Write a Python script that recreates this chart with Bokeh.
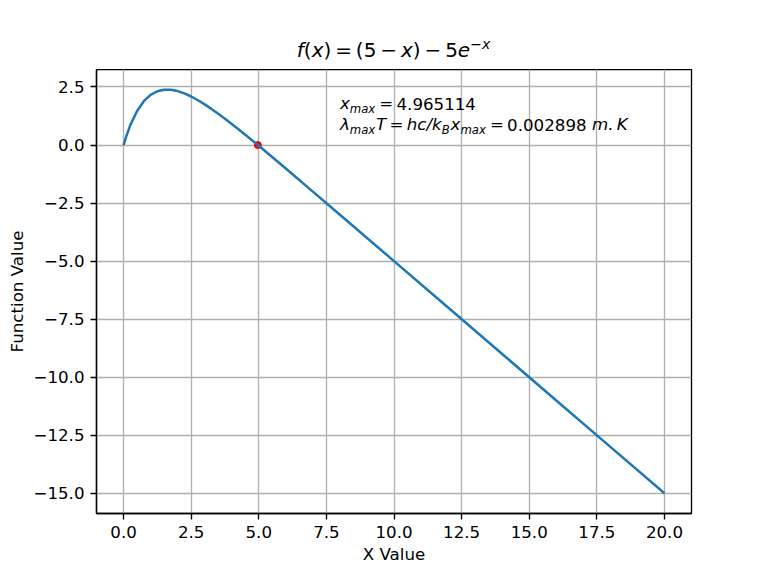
from bokeh.plotting import figure
from bokeh.layouts import column
from bokeh.models import Range1d, FixedTicker, CustomJSTickFormatter, Label
from bokeh.embed import file_html
from bokeh.resources import INLINE

# ---- data ----
x_vals = [0.0, 0.1, 0.25, 0.5, 0.75, 1.0, 1.25, 1.5, 1.75, 2.0, 2.25, 2.5, 2.75,
          3.0, 3.25, 3.5, 3.75, 4.0, 4.25, 4.5, 4.75, 5.0, 6.0, 7.0, 8.0, 10.0,
          12.0, 14.0, 16.0, 18.0, 20.0]
f_vals = [0.0, 0.376, 0.856, 1.467, 1.888, 2.161, 2.317, 2.384, 2.381, 2.323, 2.223,
          2.090, 1.930, 1.751, 1.556, 1.349, 1.132, 0.908, 0.679, 0.444, 0.207,
          -0.034, -1.012, -2.005, -3.002, -5.0, -7.0, -9.0, -11.0, -13.0, -15.0]
root_x = [4.965114]
root_y = [0.0]
x_ticks = [0, 2.5, 5, 7.5, 10, 12.5, 15, 17.5, 20]
y_ticks = [-15, -12.5, -10, -7.5, -5, -2.5, 0, 2.5]
x_label = "X Value"
y_label = "Function Value"

FONT = "DejaVu Sans"
BLUE = "#1f77b4"
LW = 1.33
W, H = 768, 576
L, R, T, B = 96, 77, 69, 63
frame_w = W - L - R
frame_h = H - T - B

xpad = 0.05 * (max(x_vals) - min(x_vals))
ypad = 0.05 * (max(f_vals) - min(f_vals))
x0, x1 = min(x_vals) - xpad, max(x_vals) + xpad
y0, y1 = min(f_vals) - ypad, max(f_vals) + ypad

# ---- title strip: its frame spans page x L..W-R and page y 0..T ----
top = figure(frame_width=frame_w, frame_height=T, output_backend="svg",
             toolbar_location=None, title=None,
             x_axis_location=None, y_axis_location=None,
             x_range=Range1d(L, W - R), y_range=Range1d(0, T),
             min_border_left=L, min_border_right=R, min_border_top=0, min_border_bottom=0,
             background_fill_color="white", border_fill_color="white")
top.grid.visible = False
top.outline_line_color = None

# ---- main plot ----
p = figure(frame_width=frame_w, frame_height=frame_h, output_backend="svg",
           toolbar_location=None, title=None,
           x_range=Range1d(x0, x1), y_range=Range1d(y0, y1),
           min_border_left=L, min_border_right=R, min_border_top=0, min_border_bottom=B,
           background_fill_color="white", border_fill_color="white")

p.outline_line_color = "black"
p.outline_line_width = LW
p.outline_line_alpha = 1.0

fmt = CustomJSTickFormatter(code="return tick.toFixed(1).replace('-', '\\u2212');")
for ax, ticks in ((p.xaxis[0], x_ticks), (p.yaxis[0], y_ticks)):
    ax.ticker = FixedTicker(ticks=ticks)
    ax.formatter = fmt
    ax.axis_line_color = "black"
    ax.axis_line_width = LW
    ax.major_tick_line_color = "black"
    ax.major_tick_line_width = LW
    ax.major_tick_out = 6
    ax.major_tick_in = 0
    ax.minor_tick_line_color = None
    ax.major_label_text_font = FONT
    ax.major_label_text_font_size = "16.67px"
    ax.major_label_text_color = "black"
    ax.major_label_standoff = 6
    ax.axis_label_text_font = FONT
    ax.axis_label_text_font_size = "16.67px"
    ax.axis_label_text_font_style = "normal"
    ax.axis_label_text_color = "black"

p.xaxis.axis_label = x_label
p.yaxis.axis_label = y_label
p.xaxis.axis_label_standoff = 4
p.yaxis.axis_label_standoff = 3

for g in (p.xgrid[0], p.ygrid[0]):
    g.grid_line_color = "#b0b0b0"
    g.grid_line_width = LW

p.scatter(root_x, root_y, size=7, color="red")
p.line(x_vals, f_vals, line_color=BLUE, line_width=2.5)

# ---- mathtext-like texts, laid out with DejaVu Sans advance widths ----
ADV = {' ': 651, '(': 799, ')': 799, '.': 651, '/': 690, '=': 1716, '\u2212': 1716,
       'B': 1405, 'K': 1339, 'T': 1251, 'a': 1255, 'c': 1126, 'e': 1260, 'f': 721,
       'h': 1298, 'k': 1186, 'm': 1995, 'x': 1212, '\u03bb': 1212}
for d in "0123456789":
    ADV[d] = 1303
BASE_FIX = 0.4   # Bokeh draws "alphabetic" texts ~0.4 em lower than the baseline


def width(txt, size):
    return sum(ADV[c] for c in txt) / 2048 * size


def layout(fig, runs, start_x, baseline, size):
    """start_x / baseline are page pixels."""
    em = 1995 / 2048 * size
    x = start_x
    for run in runs:
        if run[0] == "SP":
            x += run[1] * em
            continue
        txt, italic, kind = run
        if kind == "sub":
            s, dy = size * 0.7, -0.3 * 0.547 * size
        elif kind == "sup":
            s, dy = size * 0.7, 0.7 * 0.547 * size
        else:
            s, dy = size, 0.0
        dy += BASE_FIX * s
        if fig is top:
            lab = Label(x=x, y=T - baseline + dy)
        else:
            lab = Label(x=x0, y=y1, x_offset=x - L, y_offset=T - baseline + dy)
        lab.update(text=txt, text_font=FONT, text_font_size=f"{s:.2f}px",
                   text_font_style="italic" if italic else "normal",
                   text_color="black", text_align="left", text_baseline="alphabetic")
        fig.add_layout(lab)
        x += width(txt, s)
        if kind in ("sub", "sup"):
            x += 0.05 * size
    return x


MINUS = "\u2212"
title_runs = [("f", True, "n"), ("(", False, "n"), ("x", True, "n"), (")", False, "n"),
              ("SP", 0.2), ("=", False, "n"), ("SP", 0.2), ("(5", False, "n"),
              ("SP", 0.2), (MINUS, False, "n"), ("SP", 0.2), ("x", True, "n"),
              (")", False, "n"), ("SP", 0.2), (MINUS, False, "n"), ("SP", 0.2),
              ("5", False, "n"), ("e", True, "n"), (MINUS + "x", True, "sup")]
tw = 0.0
for r in title_runs:
    if r[0] == "SP":
        tw += r[1] * 1995 / 2048 * 20
    else:
        s = 14 if r[2] == "sup" else 20
        tw += width(r[0], s) + (1.0 if r[2] == "sup" else 0)
layout(top, title_runs, L + frame_w / 2 - tw / 2, T - 12, 20)

ann_x = L + (8 - x0) / (x1 - x0) * frame_w
line1 = [("x", True, "n"), ("max", True, "sub"), ("SP", 0.2), ("=", False, "n"),
         ("SP", 0.2), ("4.965114", False, "n")]
line2 = [("\u03bb", True, "n"), ("max", True, "sub"), ("T", True, "n"), ("SP", 0.2),
         ("=", False, "n"), ("SP", 0.2), ("hc/k", True, "n"), ("B", True, "sub"),
         ("x", True, "n"), ("max", True, "sub"), ("SP", 0.2), ("=", False, "n"),
         ("SP", 0.2), ("0.002898", False, "n"), ("SP", 0.333), ("m.", True, "n"),
         ("SP", 0.2), ("K", True, "n")]
layout(p, line1, ann_x, 110, 16.67)
layout(p, line2, ann_x, 131, 16.67)

page = column(top, p, spacing=0)
open("out.html", "w").write(file_html(page, INLINE))
